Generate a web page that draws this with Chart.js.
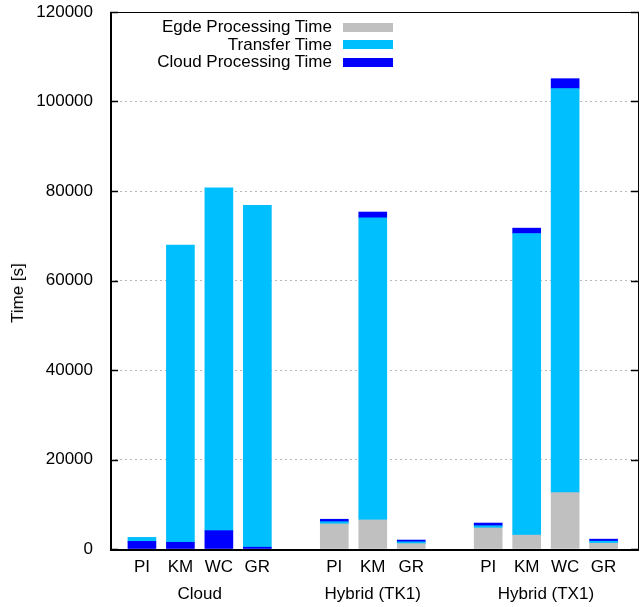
<!DOCTYPE html>
<html lang="en">

<head>
  <meta charset="UTF-8">
  <title>Processing and transfer time</title>
  <script src="https://cdn.jsdelivr.net/npm/chart.js"></script>
  <style>
    body { margin: 0; background: #fff; }
    #wrap { position: relative; width: 641px; height: 607px; font-family: "Liberation Sans", Arial, sans-serif; }
    .key { position: absolute; right: 309px; font-size: 17px; line-height: 18px; white-space: nowrap; color: #000; }
    .swatch { position: absolute; left: 343px; width: 50px; height: 9px; }
    #ytitle { position: absolute; left: 18px; top: 293px; font-size: 17px; line-height: 18px; white-space: nowrap;
      transform: translate(-50%, -50%) rotate(-90deg); }
  </style>
</head>

<body>
  <div id="wrap">
    <canvas id="timeChart" width="641" height="607"></canvas>
    <div id="legend"></div>
    <div id="ytitle">Time [s]</div>
  </div>

  <script>
    // groups and the applications run in each
    const groups = ['Cloud', 'Hybrid (TK1)', 'Hybrid (TX1)'];
    const apps = [['PI', 'KM', 'WC', 'GR'], ['PI', 'KM', 'GR'], ['PI', 'KM', 'WC', 'GR']];

    // times in seconds, one value per bar, in the order above
    const edgeTime = [0, 0, 0, 0, 5600, 6500, 1200, 4700, 3100, 12600, 1300];
    const transferTime = [900, 66400, 76600, 76400, 500, 67500, 400, 500, 67400, 90300, 450];
    const cloudTime = [1700, 1500, 4100, 400, 550, 1300, 400, 600, 1200, 2200, 450];

    const yTicks = [0, 20000, 40000, 60000, 80000, 100000, 120000];

    // slot index for each bar, one empty slot between groups
    const slots = [], slotLabel = {}, groupCenters = [];
    let pos = 0;
    apps.forEach((list, g) => {
      groupCenters.push(pos + (list.length - 1) / 2);
      list.forEach(a => { slotLabel[pos] = a; slots.push(pos); pos++; });
      pos++;
    });

    const pts = (vals, keep) => slots.map((x, i) => ({ x: x, y: keep(i) ? vals[i] : null }));
    const cloudFirst = i => edgeTime[i] === 0;

    const frame = {
      id: 'frame',
      afterDatasetsDraw(chart) {
        const { ctx, chartArea: a } = chart;
        const y = chart.scales.y;
        ctx.save();
        ctx.strokeStyle = '#000';
        ctx.lineWidth = 1;
        ctx.strokeRect(a.left + 0.5, a.top + 0.5, a.right - a.left - 1, a.bottom - a.top);
        ctx.lineWidth = 2;
        ctx.beginPath();
        ctx.moveTo(a.left + 1, a.top);
        ctx.lineTo(a.left + 1, a.bottom + 1);
        ctx.lineTo(a.right, a.bottom + 1);
        ctx.stroke();
        ctx.lineWidth = 1.5;
        yTicks.forEach(v => {
          const py = Math.round(y.getPixelForValue(v)) + 0.5;
          ctx.beginPath();
          ctx.moveTo(a.left, py); ctx.lineTo(a.left + 8, py);
          ctx.moveTo(a.right, py); ctx.lineTo(a.right - 8, py);
          ctx.stroke();
        });
        ctx.restore();
      }
    };

    const font = { family: '"Liberation Sans", Arial, sans-serif', size: 17 };

    new Chart(document.getElementById('timeChart'), {
      type: 'bar',
      data: {
        datasets: [
          { label: 'Egde Processing Time', data: pts(edgeTime, i => !cloudFirst(i)), backgroundColor: '#c0c0c0' },
          { label: 'Cloud Processing Time', data: pts(cloudTime, cloudFirst), backgroundColor: '#0000ff' },
          { label: 'Transfer Time', data: pts(transferTime, () => true), backgroundColor: '#00bfff' },
          { label: 'Cloud Processing Time', data: pts(cloudTime, i => !cloudFirst(i)), backgroundColor: '#0000ff' }
        ]
      },
      options: {
        responsive: false,
        devicePixelRatio: 1,
        animation: false,
        layout: { padding: { top: 12, right: 2, left: 0, bottom: 0 } },
        datasets: { bar: { barThickness: 28, borderWidth: 0 } },
        plugins: { legend: { display: false }, tooltip: { enabled: false } },
        scales: {
          x: {
            type: 'linear', stacked: true, min: -0.83, max: 12.92, bounds: 'data', offset: false,
            grid: { display: false, drawTicks: false }, border: { display: false },
            afterBuildTicks: s => { s.ticks = slots.map(v => ({ value: v })); },
            afterFit: s => { s.height = 30; },
            ticks: { font: font, color: '#000', padding: 8, autoSkip: false, maxRotation: 0,
              callback: v => slotLabel[v] || '' }
          },
          x2: {
            type: 'linear', position: 'bottom', min: -0.83, max: 12.92, bounds: 'data', offset: false,
            grid: { display: false, drawTicks: false }, border: { display: false },
            afterBuildTicks: s => { s.ticks = groupCenters.map(v => ({ value: v })); },
            afterFit: s => { s.height = 28; },
            ticks: { font: font, color: '#000', padding: 5, autoSkip: false, maxRotation: 0,
              callback: (v, i) => groups[i] }
          },
          y: {
            stacked: true, min: 0, max: 120000,
            afterBuildTicks: s => { s.ticks = yTicks.map(v => ({ value: v })); },
            afterFit: s => { s.width = 110; s.paddingTop = 0; s.paddingBottom = 0; },
            border: { display: false, dash: [2, 3] },
            grid: {
              drawTicks: false, lineWidth: 1,
              color: c => (c.tick.value === 0 || c.tick.value === 120000) ? 'rgba(0,0,0,0)' : '#b8b8b8'
            },
            ticks: { font: font, color: '#000', padding: 17, callback: v => String(v) }
          }
        }
      },
      plugins: [frame]
    });

    // gnuplot style key: right aligned text, swatch on the right
    const keys = [['Egde Processing Time', '#c0c0c0'], ['Transfer Time', '#00bfff'], ['Cloud Processing Time', '#0000ff']];
    const legend = document.getElementById('legend');
    keys.forEach((k, i) => {
      const cy = 27 + i * 17.5;
      const t = document.createElement('div');
      t.className = 'key';
      t.style.top = (cy - 9) + 'px';
      t.textContent = k[0];
      legend.appendChild(t);
      const s = document.createElement('div');
      s.className = 'swatch';
      s.style.top = (cy - 4.5) + 'px';
      s.style.background = k[1];
      legend.appendChild(s);
    });
  </script>
</body>

</html>
